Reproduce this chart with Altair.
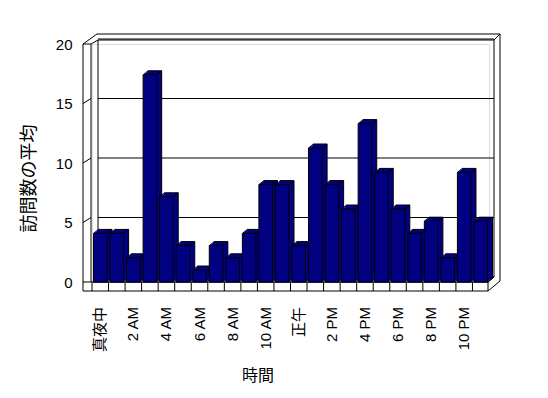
import altair as alt
import pandas as pd

# ---- data ----
HOURS = list(range(24))
HOUR_LABELS = ['真夜中', '1 AM', '2 AM', '3 AM', '4 AM', '5 AM', '6 AM', '7 AM',
               '8 AM', '9 AM', '10 AM', '11 AM', '正午', '1 PM', '2 PM', '3 PM',
               '4 PM', '5 PM', '6 PM', '7 PM', '8 PM', '9 PM', '10 PM', '11 PM']
VISITS = [4, 4, 2, 17, 7, 3, 1, 3, 2, 4, 8, 8, 3, 11, 8, 6, 13, 9, 6, 4, 5, 2, 9, 5]
Y_TICKS = [0, 5, 10, 15, 20]
GRID_VALUES = [0, 5, 10, 15, 20]
WALL_TICKS = [5, 10, 15]
X_TITLE = '時間'
Y_TITLE = '訪問数の平均'

# ---- layout / style ----
W, H = 397, 238          # plot area
OX, OY = 92, 44          # plot origin on the page
N = len(HOURS)
PAD_IN, PAD_OUT = 0.18, 0.09
STEP = W / (N - PAD_IN + 2 * PAD_OUT)
BW = STEP * (1 - PAD_IN)
DX, DY = 5, -4           # depth of the 3D boxes
NAVY = '#000080'
FONT = 'Liberation Sans, Noto Sans CJK JP, sans-serif'

# frame of the 3D walls/floor (page pixels), decoration only
FRAME = [
    (83, 44, 83, 291), (91, 44, 91, 282), (98, 40, 98, 277),
    (83, 44, 91, 44), (83, 44, 97, 34), (91, 44, 98, 40),
    (97, 34, 500, 34), (98, 40, 494, 40),
    (494, 40, 494, 277), (500, 34, 500, 281), (494, 40, 500, 34),
    (83, 291, 488, 291), (83, 282, 488, 282), (488, 282, 488, 291),
    (488, 291, 500, 281), (488, 282, 494, 277),
]

bars = pd.DataFrame({'hour': HOURS, 'visits': VISITS, 'base': [0] * N,
                     'label': [lab if h % 2 == 0 else '' for h, lab in zip(HOURS, HOUR_LABELS)]})
grid = pd.DataFrame({'g': GRID_VALUES})
wall = pd.DataFrame({'g': WALL_TICKS})
one = pd.DataFrame({'k': [0]})

x_scale = alt.Scale(domain=HOURS, paddingInner=PAD_IN, paddingOuter=PAD_OUT)
axis_y_scale = alt.Scale(domain=[0, 20], nice=False)
bar_y_scale = alt.Scale(domain=[0, 20], nice=False, range=[238.2, -5.8])

# floor cell dividers
floor_layer = alt.Chart(bars).mark_rule(color='black', xOffset=-STEP / 2).encode(
    x=alt.X('hour:O', scale=x_scale, axis=None),
    y=alt.value(H), y2=alt.value(H + 9),
)

# hour labels under the floor (rotated)
label_layer = alt.Chart(bars).mark_text(
    angle=270, align='right', baseline='middle', font=FONT, fontSize=15,
    color='black').encode(
    x=alt.X('hour:O', scale=x_scale, axis=None),
    y=alt.value(H + 25),
    text='label:N',
)

x_title_layer = alt.Chart(one).mark_text(
    text=X_TITLE, font=FONT, fontSize=16, color='black', baseline='middle',
    align='center').encode(x=alt.value(166), y=alt.value(H + 93.5))

# back wall gridlines + y axis
grid_layer = alt.Chart(grid).mark_rule(color='black', yOffset=-5).encode(
    y=alt.Y('g:Q', scale=axis_y_scale,
            axis=alt.Axis(title=Y_TITLE, values=Y_TICKS, grid=False, domain=False,
                          ticks=False, labelPadding=20, labelFontSize=15,
                          labelFont=FONT, labelColor='black', orient='left',
                          titleFont=FONT, titleFontSize=18, titleFontWeight='normal',
                          titleColor='black', titleX=-63, titleY=134,
                          titleBaseline='middle')),
    x=alt.value(6), x2=alt.value(402),
)

wall_layer = alt.Chart(wall).mark_rule(color='black', y2Offset=-5).encode(
    y=alt.Y('g:Q', scale=axis_y_scale, axis=None),
    y2='g:Q',
    x=alt.value(-9), x2=alt.value(-1),
)

frame_layers = [
    alt.Chart(one).mark_rule(color='black').encode(
        x=alt.value(a - OX), y=alt.value(b - OY),
        x2=alt.value(c - OX), y2=alt.value(d - OY))
    for a, b, c, d in FRAME
]


def box_layer(dx, dy, stroke):
    kw = dict(color=NAVY, xOffset=dx, x2Offset=dx, yOffset=dy, y2Offset=dy)
    if stroke:
        kw.update(stroke='black', strokeWidth=1)
    return alt.Chart(bars).mark_bar(**kw).encode(
        x=alt.X('hour:O', scale=x_scale, axis=None),
        y=alt.Y('visits:Q', scale=bar_y_scale, axis=None),
        y2='base:Q',
    )


def edge_layer(x_off, y_field):
    return alt.Chart(bars).mark_rule(color='black', xOffset=x_off, x2Offset=x_off + DX,
                                     y2Offset=DY).encode(
        x=alt.X('hour:O', scale=x_scale, axis=None),
        x2='hour:O',
        y=alt.Y(f'{y_field}:Q', scale=bar_y_scale, axis=None),
        y2=f'{y_field}:Q',
    )


layers = [grid_layer, wall_layer] + frame_layers + [floor_layer, label_layer,
                                                    x_title_layer, box_layer(DX, DY, True)]
for k in range(1, 5):
    layers.append(box_layer(DX * k / 5, DY * k / 5, False))
layers += [edge_layer(-BW / 2, 'visits'), edge_layer(BW / 2, 'visits'),
           edge_layer(BW / 2, 'base')]
layers.append(box_layer(0, 0, True))

chart = alt.layer(*layers).resolve_scale(y='independent').properties(
    width=W, height=H,
    autosize=alt.AutoSizeParams(type='none'),
    padding={'left': OX - 8, 'top': OY - 8, 'right': 548 - 16 - (OX - 8) - W,
             'bottom': 382 - (OY - 8) - H},
).configure_view(stroke=None, clip=False).configure(background='white')

chart.save('out.html', embed_options={'renderer': 'svg', 'actions': False})
